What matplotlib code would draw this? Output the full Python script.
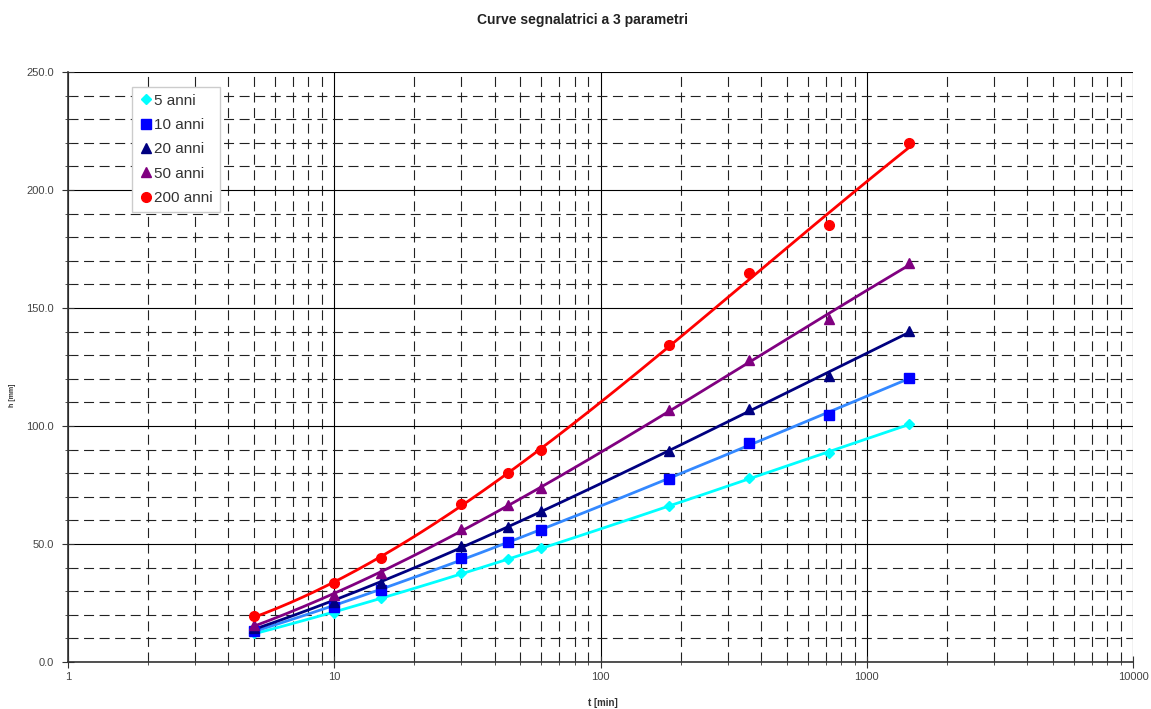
import numpy as np
import matplotlib
matplotlib.use("Agg")
import matplotlib.pyplot as plt
from matplotlib.ticker import FixedLocator, MultipleLocator, LogLocator, NullFormatter, FuncFormatter

plt.rcParams['font.family'] = ['Liberation Sans', 'DejaVu Sans']

durations = [5, 10, 15, 30, 45, 60, 180, 360, 720, 1440]
labels = ["5 anni", "10 anni", "20 anni", "50 anni", "200 anni"]
h_5 = [12.1, 20.9, 27.0, 37.6, 43.5, 48.2, 66.0, 77.8, 88.7, 100.8]
h_10 = [13.3, 23.4, 30.5, 44.2, 50.7, 55.9, 77.5, 92.7, 104.8, 120.5]
h_20 = [14.4, 25.6, 33.3, 49.2, 57.3, 64.1, 89.4, 107.1, 121.2, 140.4]
h_50 = [15.7, 28.4, 37.8, 56.2, 66.5, 73.6, 106.8, 128.0, 145.2, 169.2]
h_200 = [19.5, 33.6, 43.9, 66.8, 80.2, 89.8, 134.5, 164.8, 185.2, 220.0]
series = [h_5, h_10, h_20, h_50, h_200]

marker_colors = ["#00FFFF", "#0000FF", "#000080", "#800080", "#FF0000"]
line_colors = ["#00FFFF", "#3388FF", "#000080", "#800080", "#FF0000"]
markers = ["D", "s", "^", "^", "o"]
msizes = [5, 7, 7, 7, 7]

fig = plt.figure(figsize=(11.51, 7.09), dpi=100)
ax = fig.add_axes([0.0591, 0.0663, 0.9253, 0.8321])

t = np.array(durations, dtype=float)
tt = np.logspace(np.log10(5), np.log10(1440), 200)
for vals, mc, lc, m, ms, lab in zip(series, marker_colors, line_colors, markers, msizes, labels):
    v = np.array(vals)
    coef = np.polyfit(np.log10(t), v, 3)
    ax.plot(tt, np.polyval(coef, np.log10(tt)), color=lc, lw=2.0, zorder=3)
    ax.plot(t, v, linestyle="none", marker=m, color=mc, markersize=ms,
            markeredgecolor=mc, label=lab, zorder=4)

ax.set_xscale("log")
ax.set_xlim(1, 10000)
ax.set_ylim(0, 250)
ax.yaxis.set_major_locator(MultipleLocator(50))
ax.yaxis.set_minor_locator(MultipleLocator(10))
ax.yaxis.set_major_formatter(FuncFormatter(lambda v, p: f"{v:.1f}"))
ax.xaxis.set_major_locator(FixedLocator([1, 10, 100, 1000, 10000]))
ax.xaxis.set_major_formatter(FuncFormatter(lambda v, p: f"{int(round(v))}"))
ax.xaxis.set_minor_locator(LogLocator(base=10, subs=np.arange(2, 10)))
ax.xaxis.set_minor_formatter(NullFormatter())

ax.grid(which="major", color="#000000", lw=0.8, ls="-")
ax.grid(which="minor", color="#222222", lw=0.8, ls=(0, (9, 5)))
ax.set_axisbelow(True)

for s in ["top", "right"]:
    ax.spines[s].set_visible(False)
for s in ["left", "bottom"]:
    ax.spines[s].set_color("#333333")
    ax.spines[s].set_linewidth(1.2)

ax.tick_params(axis="both", which="both", direction="inout", colors="#333333",
               labelcolor="#444444", labelsize=8)
ax.tick_params(axis="both", which="major", length=8)
ax.tick_params(axis="both", which="minor", length=5)
ax.tick_params(axis="y", pad=6)

fig.text(0.506, 0.972, "Curve segnalatrici a 3 parametri", ha="center", va="center",
         fontsize=10, fontweight="bold", color="#222222")
fig.text(0.524, 0.008, "t [min]", ha="center", va="center", fontsize=7,
         fontweight="bold", color="#333333")
fig.text(0.011, 0.443, "h [mm]", ha="center", va="center", fontsize=5,
         fontweight="bold", color="#333333", rotation=90)

leg = ax.legend(loc="upper left", bbox_to_anchor=(0.060, 0.975), fontsize=11,
                frameon=True, fancybox=False, handletextpad=0.0, handlelength=1.0,
                borderpad=0.45, labelspacing=0.68, borderaxespad=0)
leg.get_frame().set_edgecolor("#cccccc")
leg.get_frame().set_linewidth(1.0)
leg.get_frame().set_facecolor("white")
leg.get_frame().set_alpha(1)
for txt in leg.get_texts():
    txt.set_color("#333333")

fig.savefig("out.png", dpi=100)
